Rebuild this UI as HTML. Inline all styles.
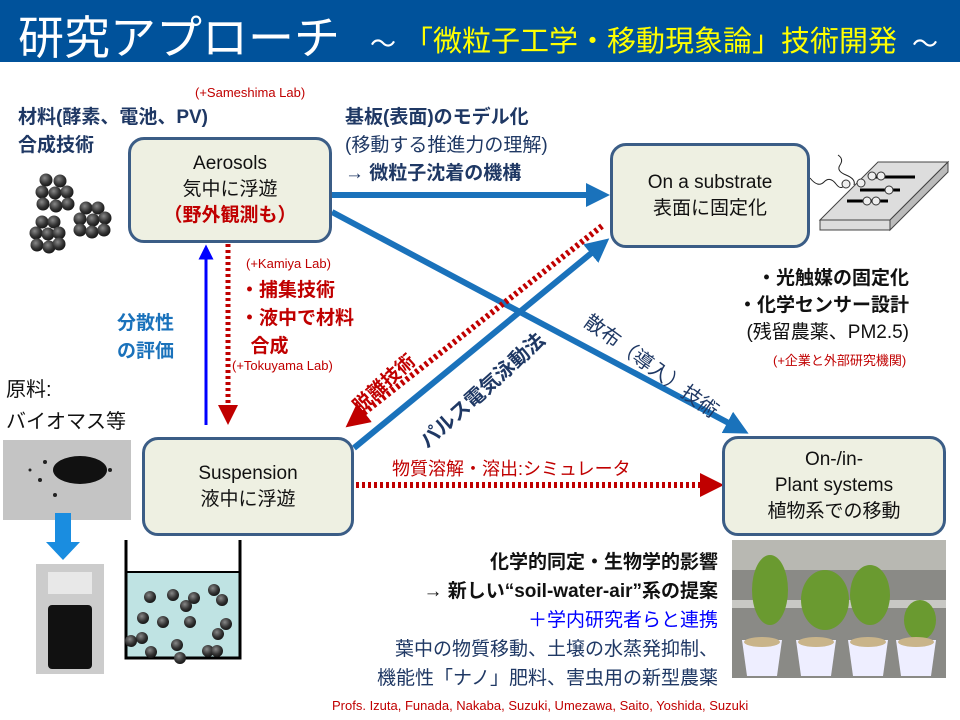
<!DOCTYPE html>
<html><head><meta charset="utf-8"><style>
body{margin:0;width:960px;height:720px;position:relative;overflow:hidden;background:#fff;font-family:"Liberation Sans","Noto Sans CJK JP",sans-serif;}
.t{position:absolute;white-space:nowrap;font-weight:bold;}
.box{position:absolute;background:#eef0e2;border:3px solid #3b5d86;border-radius:16px;box-sizing:border-box;text-align:center;font-weight:bold;color:#111;font-size:19px;line-height:26px;display:flex;flex-direction:column;justify-content:center;}
</style></head><body>
<div style="position:absolute;left:0;top:0;width:960px;height:62px;background:#00529b;"></div>
<div class="t" style="left:18px;top:2px;font-size:46px;color:#fff;font-weight:normal;">研究アプローチ</div>
<div class="t" style="left:370px;top:24px;font-size:26px;color:#fff;font-weight:normal;">～</div>
<div class="t" style="left:404px;top:18px;font-size:29px;color:#ffff00;font-weight:normal;">「微粒子工学・移動現象論」技術開発</div>
<div class="t" style="left:912px;top:24px;font-size:26px;color:#fff;font-weight:normal;">～</div>

<svg style="position:absolute;left:0;top:0" width="960" height="720">
<defs>
<marker id="bA" markerWidth="4" markerHeight="4" refX="2" refY="2" orient="auto" markerUnits="strokeWidth"><path d="M0,0 L4,2 L0,4z" fill="#1a72bb"/></marker>
<marker id="rA" markerWidth="4" markerHeight="4" refX="2" refY="2" orient="auto" markerUnits="strokeWidth"><path d="M0,0 L4,2 L0,4z" fill="#c00000"/></marker>
<marker id="uA" markerWidth="5" markerHeight="5" refX="2.5" refY="2.5" orient="auto" markerUnits="strokeWidth"><path d="M0,0 L5,2.5 L0,5z" fill="#0000ff"/></marker>
<radialGradient id="ball" cx="0.4" cy="0.35" r="0.7"><stop offset="0" stop-color="#888"/><stop offset="0.6" stop-color="#333"/><stop offset="1" stop-color="#111"/></radialGradient>
</defs>
<line x1="332" y1="195" x2="598" y2="195" stroke="#1a72bb" stroke-width="6" marker-end="url(#bA)"/>
<line x1="332" y1="212" x2="738" y2="428" stroke="#1a72bb" stroke-width="6" marker-end="url(#bA)"/>
<line x1="354" y1="448" x2="600" y2="246" stroke="#1a72bb" stroke-width="6" marker-end="url(#bA)"/>
<line x1="602" y1="226" x2="355" y2="420" stroke="#c00000" stroke-width="6" stroke-dasharray="3,3" marker-end="url(#rA)"/>
<line x1="356" y1="485" x2="712" y2="485" stroke="#c00000" stroke-width="6" stroke-dasharray="3,3" marker-end="url(#rA)"/>
<line x1="206" y1="425" x2="206" y2="252" stroke="#0000ff" stroke-width="3" marker-end="url(#uA)"/>
<line x1="228" y1="244" x2="228" y2="415" stroke="#c00000" stroke-width="5" stroke-dasharray="3,3" marker-end="url(#rA)"/>
<g fill="url(#ball)">
<circle cx="46" cy="180" r="6.5"/><circle cx="60" cy="181" r="6.5"/><circle cx="42" cy="192" r="6.5"/><circle cx="55" cy="193" r="6.5"/><circle cx="67" cy="192" r="6.5"/><circle cx="43" cy="204" r="6.5"/><circle cx="56" cy="206" r="6.5"/><circle cx="68" cy="204" r="6.5"/>
<circle cx="86" cy="208" r="6.5"/><circle cx="98" cy="208" r="6.5"/><circle cx="80" cy="219" r="6.5"/><circle cx="93" cy="220" r="6.5"/><circle cx="105" cy="218" r="6.5"/><circle cx="80" cy="230" r="6.5"/><circle cx="92" cy="232" r="6.5"/><circle cx="104" cy="230" r="6.5"/>
<circle cx="42" cy="222" r="6.5"/><circle cx="54" cy="222" r="6.5"/><circle cx="36" cy="233" r="6.5"/><circle cx="48" cy="234" r="6.5"/><circle cx="59" cy="233" r="6.5"/><circle cx="37" cy="245" r="6.5"/><circle cx="49" cy="247" r="6.5"/><circle cx="59" cy="244" r="6.5"/>
</g>
<polygon points="820,220 878,162 948,162 890,220" fill="#ddd" stroke="#444"/>
<polygon points="820,220 890,220 890,230 820,230" fill="#ddd" stroke="#444"/>
<polygon points="890,220 948,162 948,172 890,230" fill="#bbb" stroke="#444"/>
<path d="M810,178 q8,10 14,4 t12,2 t10,-2 M838,155 q6,4 2,10 t6,10 t8,10" stroke="#222" fill="none"/>
<line x1="870" y1="177" x2="915" y2="177" stroke="#000" stroke-width="3"/>
<line x1="860" y1="190" x2="900" y2="190" stroke="#000" stroke-width="3"/>
<line x1="847" y1="201" x2="888" y2="201" stroke="#000" stroke-width="3"/>
<g fill="#eee" stroke="#333"><circle cx="846" cy="184" r="4"/><circle cx="861" cy="183" r="4"/><circle cx="872" cy="176" r="4"/><circle cx="881" cy="176" r="4"/><circle cx="889" cy="190" r="4"/><circle cx="867" cy="201" r="4"/><circle cx="876" cy="201" r="4"/></g>
<rect x="3" y="440" width="128" height="80" fill="#c4c4c4"/>
<ellipse cx="80" cy="470" rx="27" ry="14" fill="#111"/>
<g fill="#222"><circle cx="45" cy="462" r="2"/><circle cx="40" cy="480" r="2"/><circle cx="110" cy="470" r="2"/><circle cx="55" cy="495" r="2"/><circle cx="30" cy="470" r="1.5"/></g>
<rect x="55" y="513" width="16" height="30" fill="#1a8de0"/>
<polygon points="46,542 80,542 63,560" fill="#1a8de0"/>
<rect x="36" y="564" width="68" height="110" fill="#ccc"/>
<rect x="48" y="572" width="44" height="22" fill="#e8e8e8"/>
<rect x="48" y="605" width="44" height="64" rx="4" fill="#111"/>
<rect x="126" y="572" width="114" height="86" fill="#bfe3e3"/>
<path d="M126,540 V658 H240 V540" stroke="#000" stroke-width="3" fill="none"/>
<line x1="126" y1="572" x2="240" y2="572" stroke="#000" stroke-width="2"/>
<g fill="url(#ball)">
<circle cx="150" cy="597" r="6"/><circle cx="173" cy="595" r="6"/><circle cx="194" cy="598" r="6"/><circle cx="214" cy="590" r="6"/><circle cx="222" cy="600" r="6"/><circle cx="186" cy="606" r="6"/>
<circle cx="143" cy="618" r="6"/><circle cx="163" cy="622" r="6"/><circle cx="190" cy="622" r="6"/><circle cx="226" cy="624" r="6"/><circle cx="142" cy="638" r="6"/><circle cx="177" cy="645" r="6"/><circle cx="218" cy="634" r="6"/>
<circle cx="131" cy="641" r="6"/><circle cx="151" cy="652" r="6"/><circle cx="180" cy="658" r="6"/><circle cx="208" cy="651" r="6"/><circle cx="217" cy="651" r="6"/>
</g>
<rect x="732" y="540" width="214" height="138" fill="#8a8a86"/>
<rect x="732" y="540" width="214" height="30" fill="#b8b8b2"/>
<rect x="732" y="600" width="214" height="8" fill="#c8c8c4"/>
<g fill="#6a9a30"><ellipse cx="770" cy="590" rx="18" ry="35"/><ellipse cx="825" cy="600" rx="24" ry="30"/><ellipse cx="870" cy="595" rx="20" ry="30"/><ellipse cx="920" cy="620" rx="16" ry="20"/></g>
<g fill="#eef"><path d="M742,640 h40 l-5,36 h-30z"/><path d="M796,640 h40 l-5,36 h-30z"/><path d="M848,640 h40 l-5,36 h-30z"/><path d="M896,640 h40 l-5,36 h-30z"/></g>
<g fill="#c9b48a"><ellipse cx="762" cy="642" rx="18" ry="5"/><ellipse cx="816" cy="642" rx="18" ry="5"/><ellipse cx="868" cy="642" rx="18" ry="5"/><ellipse cx="916" cy="642" rx="18" ry="5"/></g>
</svg>

<div class="box" style="left:128px;top:137px;width:204px;height:106px;"><div style="font-weight:normal">Aerosols</div><div style="font-weight:normal">気中に浮遊</div><div style="color:#c00000">（野外観測も）</div></div>
<div class="box" style="left:610px;top:143px;width:200px;height:105px;font-weight:normal;"><div>On a substrate</div><div>表面に固定化</div></div>
<div class="box" style="left:142px;top:437px;width:212px;height:99px;font-weight:normal;"><div>Suspension</div><div>液中に浮遊</div></div>
<div class="box" style="left:722px;top:436px;width:224px;height:100px;font-weight:normal;"><div>On-/in-</div><div>Plant systems</div><div>植物系での移動</div></div>

<div class="t" style="left:195px;top:85px;font-size:13px;color:#c00000;font-weight:normal;">(+Sameshima Lab)</div>
<div class="t" style="left:18px;top:104px;font-size:19px;color:#1f3864;line-height:28px;">材料(酵素、電池、PV)<br>合成技術</div>
<div class="t" style="left:345px;top:104px;font-size:19px;color:#1f3864;line-height:28px;">基板(表面)のモデル化<br><span style="font-weight:normal">(移動する推進力の理解)</span><br>→ 微粒子沈着の機構</div>
<div class="t" style="left:246px;top:256px;font-size:13px;color:#c00000;font-weight:normal;">(+Kamiya Lab)</div>
<div class="t" style="left:240px;top:277px;font-size:19px;color:#c00000;line-height:28px;">・捕集技術<br>・液中で材料<br>&nbsp;&nbsp;合成</div>
<div class="t" style="left:232px;top:358px;font-size:13px;color:#c00000;font-weight:normal;">(+Tokuyama Lab)</div>
<div class="t" style="left:117px;top:310px;font-size:19px;color:#1a72bb;line-height:28px;">分散性<br>の評価</div>
<div class="t" style="left:6px;top:374px;font-size:20px;color:#111;font-weight:normal;line-height:32px;">原料:<br>バイオマス等</div>
<div class="t" style="left:738px;top:265px;font-size:19px;color:#111;line-height:27px;text-align:right;">・光触媒の固定化<br>・化学センサー設計<br><span style="font-weight:normal">(残留農薬、PM2.5)</span></div>
<div class="t" style="left:773px;top:350px;font-size:13px;color:#c00000;font-weight:normal;">(+企業と外部研究機関)</div>
<div class="t" style="left:392px;top:455px;font-size:18px;color:#c00000;font-weight:normal;">物質溶解・溶出:シミュレータ</div>
<div class="t" style="left:346px;top:398px;font-size:19px;color:#c00000;transform:rotate(-42deg);transform-origin:left top;">脱離技術</div>
<div class="t" style="left:412px;top:432px;font-size:20px;color:#1f3864;transform:rotate(-42deg);transform-origin:left top;">パルス電気泳動法</div>
<div class="t" style="left:596px;top:306px;font-size:20px;color:#1f3864;transform:rotate(36deg);transform-origin:left top;font-weight:normal;">散布（導入）技術</div>
<div class="t" style="left:310px;top:548px;width:408px;font-size:19px;color:#111;line-height:29px;text-align:right;">化学的同定・生物学的影響<br>→ 新しい“soil-water-air”系の提案<br><span style="color:#0000ff;font-weight:normal">＋学内研究者らと連携</span><br><span style="color:#1f3864;font-weight:normal">葉中の物質移動、土壌の水蒸発抑制、<br>機能性「ナノ」肥料、害虫用の新型農薬</span></div>
<div class="t" style="left:332px;top:698px;font-size:13px;color:#c00000;font-weight:normal;">Profs. Izuta, Funada, Nakaba, Suzuki, Umezawa, Saito, Yoshida, Suzuki</div>
</body></html>
